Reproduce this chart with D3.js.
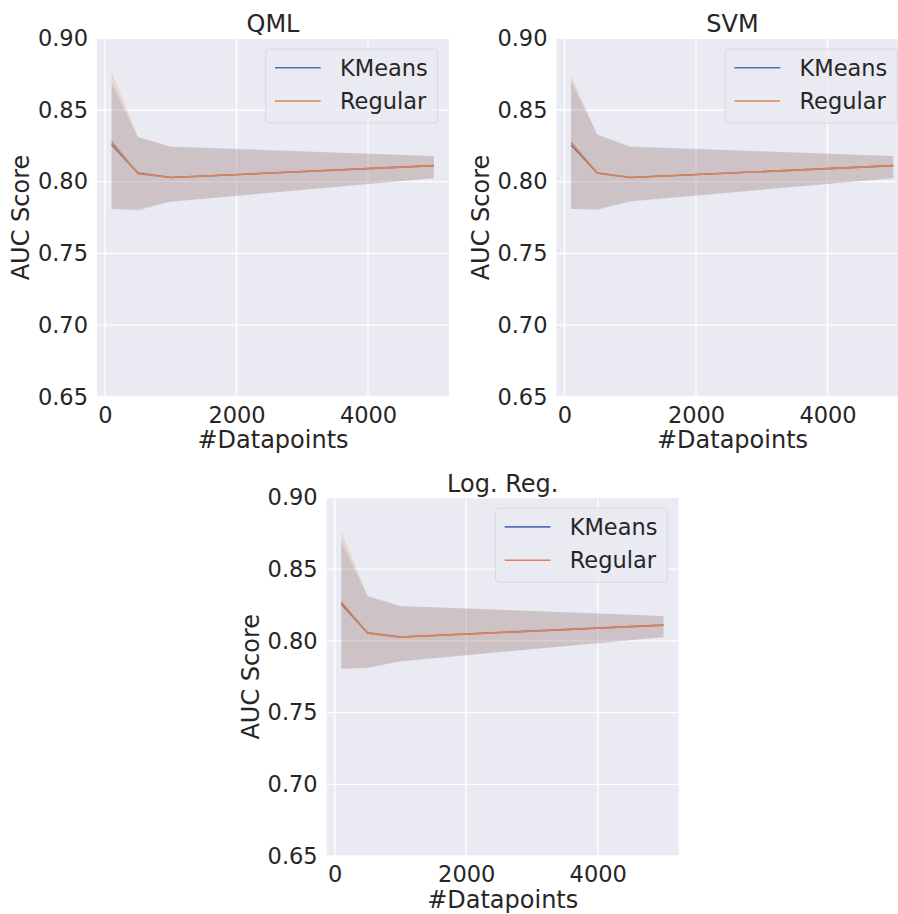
<!DOCTYPE html>
<html>
<head>
<meta charset="utf-8">
<script src="https://cdn.jsdelivr.net/npm/d3@7"></script>
<style>
  body { margin: 0; background: #fff; }
  svg { display: block; font-family: "DejaVu Sans", sans-serif; }
</style>
</head>
<body>
<svg id="chart" width="898" height="914"></svg>
<script>
// data
const xPoints = [100, 500, 1000, 5000];
const seriesNames = ["KMeans", "Regular"];
const panelTitles = ["QML", "SVM", "Log. Reg."];
const yTicks = [0.65, 0.70, 0.75, 0.80, 0.85, 0.90];
const xTicks = [0, 2000, 4000];

const qmlKMeansMean = [0.826, 0.806, 0.8029, 0.8112];
const qmlKMeansLower = [0.781, 0.780, 0.786, 0.8024];
const qmlKMeansUpper = [0.8686, 0.831, 0.8245, 0.818];
const qmlRegularMean = [0.828, 0.8055, 0.8029, 0.8112];
const qmlRegularLower = [0.781, 0.7812, 0.7862, 0.8026];
const qmlRegularUpper = [0.8767, 0.8314, 0.8242, 0.8178];

const svmKMeansMean = [0.8256, 0.8061, 0.8029, 0.8112];
const svmKMeansLower = [0.781, 0.7805, 0.7862, 0.8024];
const svmKMeansUpper = [0.8698, 0.833, 0.8245, 0.818];
const svmRegularMean = [0.8275, 0.806, 0.8029, 0.8112];
const svmRegularLower = [0.781, 0.781, 0.7866, 0.8026];
const svmRegularUpper = [0.8737, 0.8325, 0.8242, 0.8178];

const logKMeansMean = [0.8258, 0.8056, 0.8027, 0.811];
const logKMeansLower = [0.7806, 0.7815, 0.7857, 0.8026];
const logKMeansUpper = [0.8692, 0.831, 0.8244, 0.8174];
const logRegularMean = [0.8272, 0.8054, 0.8026, 0.811];
const logRegularLower = [0.7806, 0.781, 0.786, 0.8028];
const logRegularUpper = [0.8761, 0.8315, 0.8242, 0.8172];

const panelSeries = [
    [[qmlKMeansMean, qmlKMeansLower, qmlKMeansUpper], [qmlRegularMean, qmlRegularLower, qmlRegularUpper]],
    [[svmKMeansMean, svmKMeansLower, svmKMeansUpper], [svmRegularMean, svmRegularLower, svmRegularUpper]],
    [[logKMeansMean, logKMeansLower, logKMeansUpper], [logRegularMean, logRegularLower, logRegularUpper]]
];

const colors = ["#4C72B0", "#DD8452"];
const textColor = "#262626";

const svg = d3.select("#chart");
const plotW = 352, plotH = 358.5;
const panelPos = [
    {left: 97, top: 38.3},
    {left: 556.5, top: 38.3},
    {left: 326.7, top: 497.5}
];

panelTitles.forEach((title, p) => {
    const pos = panelPos[p];
    const g = svg.append("g").attr("transform", `translate(${pos.left},${pos.top})`);

    const x = d3.scaleLinear().domain([-122, 5232]).range([0, plotW]);
    const y = d3.scaleLinear().domain([0.65, 0.90]).range([plotH, 0]);

    g.append("rect")
        .attr("width", plotW)
        .attr("height", plotH)
        .attr("fill", "#EAEAF2");

    // grid
    g.selectAll("line.hgrid").data(yTicks).enter()
        .append("line")
        .attr("class", "hgrid")
        .attr("x1", 0).attr("x2", plotW)
        .attr("y1", d => y(d)).attr("y2", d => y(d))
        .attr("stroke", "#fff").attr("stroke-width", 1.3);
    g.selectAll("line.vgrid").data(xTicks).enter()
        .append("line")
        .attr("class", "vgrid")
        .attr("y1", 0).attr("y2", plotH)
        .attr("x1", d => x(d)).attr("x2", d => x(d))
        .attr("stroke", "#fff").attr("stroke-width", 1.3);

    const area = d3.area()
        .x((d, i) => x(xPoints[i]))
        .y0(d => y(d[0]))
        .y1(d => y(d[1]));
    const line = d3.line()
        .x((d, i) => x(xPoints[i]))
        .y(d => y(d));

    panelSeries[p].forEach((s, k) => {
        const [mean, lower, upper] = s;
        g.append("path")
            .datum(lower.map((v, i) => [v, upper[i]]))
            .attr("d", area)
            .attr("fill", colors[k])
            .attr("fill-opacity", 0.2);
        g.append("path")
            .datum(mean)
            .attr("d", line)
            .attr("fill", "none")
            .attr("stroke", colors[k])
            .attr("stroke-width", 1.6);
    });

    // axes (no tick marks, seaborn darkgrid)
    const yAxis = g.append("g").call(d3.axisLeft(y).tickValues(yTicks).tickFormat(d3.format(".2f")).tickSize(0).tickPadding(9));
    const xAxis = g.append("g").attr("transform", `translate(0,${plotH})`)
        .call(d3.axisBottom(x).tickValues(xTicks).tickFormat(d3.format("d")).tickSize(0).tickPadding(10));
    [yAxis, xAxis].forEach(a => {
        a.select(".domain").remove();
        a.selectAll("text")
            .attr("font-size", 22.5)
            .attr("font-family", "DejaVu Sans")
            .attr("fill", textColor);
    });

    g.append("text")
        .attr("x", plotW / 2)
        .attr("y", -6)
        .attr("text-anchor", "middle")
        .attr("font-size", 24)
        .attr("fill", textColor)
        .text(title);

    g.append("text")
        .attr("x", plotW / 2)
        .attr("y", plotH + 51.5)
        .attr("text-anchor", "middle")
        .attr("font-size", 24)
        .attr("fill", textColor)
        .text("#Datapoints");

    g.append("text")
        .attr("transform", `translate(-76,${plotH / 2}) rotate(-90)`)
        .attr("dy", "0.35em")
        .attr("text-anchor", "middle")
        .attr("font-size", 24)
        .attr("fill", textColor)
        .text("AUC Score");

    // legend
    const legW = 172, legH = 74;
    const leg = g.append("g").attr("transform", `translate(${plotW - 11.3 - legW},10.7)`);
    leg.append("rect")
        .attr("width", legW).attr("height", legH)
        .attr("rx", 4).attr("ry", 4)
        .attr("fill", "#EAEAF2").attr("fill-opacity", 0.8)
        .attr("stroke", "#d8d8e0").attr("stroke-width", 1);
    seriesNames.forEach((name, k) => {
        const ly = 18.7 + k * 33.3;
        leg.append("line")
            .attr("x1", 9.3).attr("x2", 55)
            .attr("y1", ly).attr("y2", ly)
            .attr("stroke", colors[k]).attr("stroke-width", 1.6);
        leg.append("text")
            .attr("x", 74.3).attr("y", ly + 8.3)
            .attr("font-size", 22.5)
            .attr("fill", textColor)
            .text(name);
    });
});
</script>
</body>
</html>
